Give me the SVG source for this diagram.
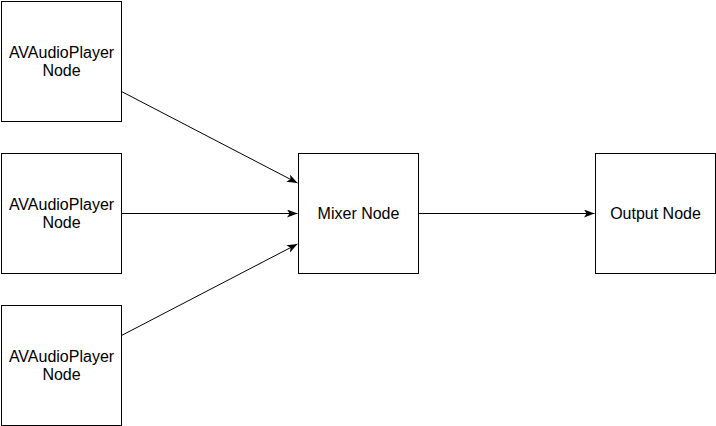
<svg xmlns="http://www.w3.org/2000/svg" width="716" height="426" viewBox="0 0 716 426">
<defs>
<style>
.box{fill:#ffffff;stroke:#000000;stroke-width:1}
.lbl{font-family:Helvetica,"Liberation Sans",Arial,sans-serif;font-size:16px;fill:#000000;text-anchor:middle}
.edge{fill:none;stroke:#000000;stroke-width:1}
</style>
<marker id="arrow" markerUnits="userSpaceOnUse" markerWidth="12" markerHeight="9" refX="10.5" refY="4" orient="auto">
<path d="M0,0 L10.5,4 L0,8 L2.6,4 Z" fill="#000000"/>
</marker>
</defs>
<rect width="716" height="426" fill="#ffffff"/>
<g id="player1">
<rect class="box" x="1.5" y="1.5" width="120" height="120"/>
<text class="lbl" x="61.5" y="58.3">AVAudioPlayer</text>
<text class="lbl" x="61.5" y="76.3">Node</text>
</g>
<g id="player2">
<rect class="box" x="1.5" y="153.5" width="120" height="120"/>
<text class="lbl" x="61.5" y="210.3">AVAudioPlayer</text>
<text class="lbl" x="61.5" y="228.3">Node</text>
</g>
<g id="player3">
<rect class="box" x="1.5" y="305.5" width="120" height="120"/>
<text class="lbl" x="61.5" y="362.3">AVAudioPlayer</text>
<text class="lbl" x="61.5" y="380.3">Node</text>
</g>
<g id="mixer">
<rect class="box" x="298.5" y="153.5" width="120" height="120"/>
<text class="lbl" x="358.5" y="218.5">Mixer Node</text>
</g>
<g id="output">
<rect class="box" x="595.5" y="153.5" width="120" height="120"/>
<text class="lbl" x="655.5" y="218.5">Output Node</text>
</g>
<g id="connectors">
<line class="edge" x1="121.5" y1="91.5" x2="297.5" y2="183" marker-end="url(#arrow)"/>
<line class="edge" x1="121.5" y1="213.5" x2="297.5" y2="213.5" marker-end="url(#arrow)"/>
<line class="edge" x1="121.5" y1="335.5" x2="297.5" y2="244" marker-end="url(#arrow)"/>
<line class="edge" x1="418.5" y1="213.5" x2="594.5" y2="213.5" marker-end="url(#arrow)"/>
</g>
</svg>
